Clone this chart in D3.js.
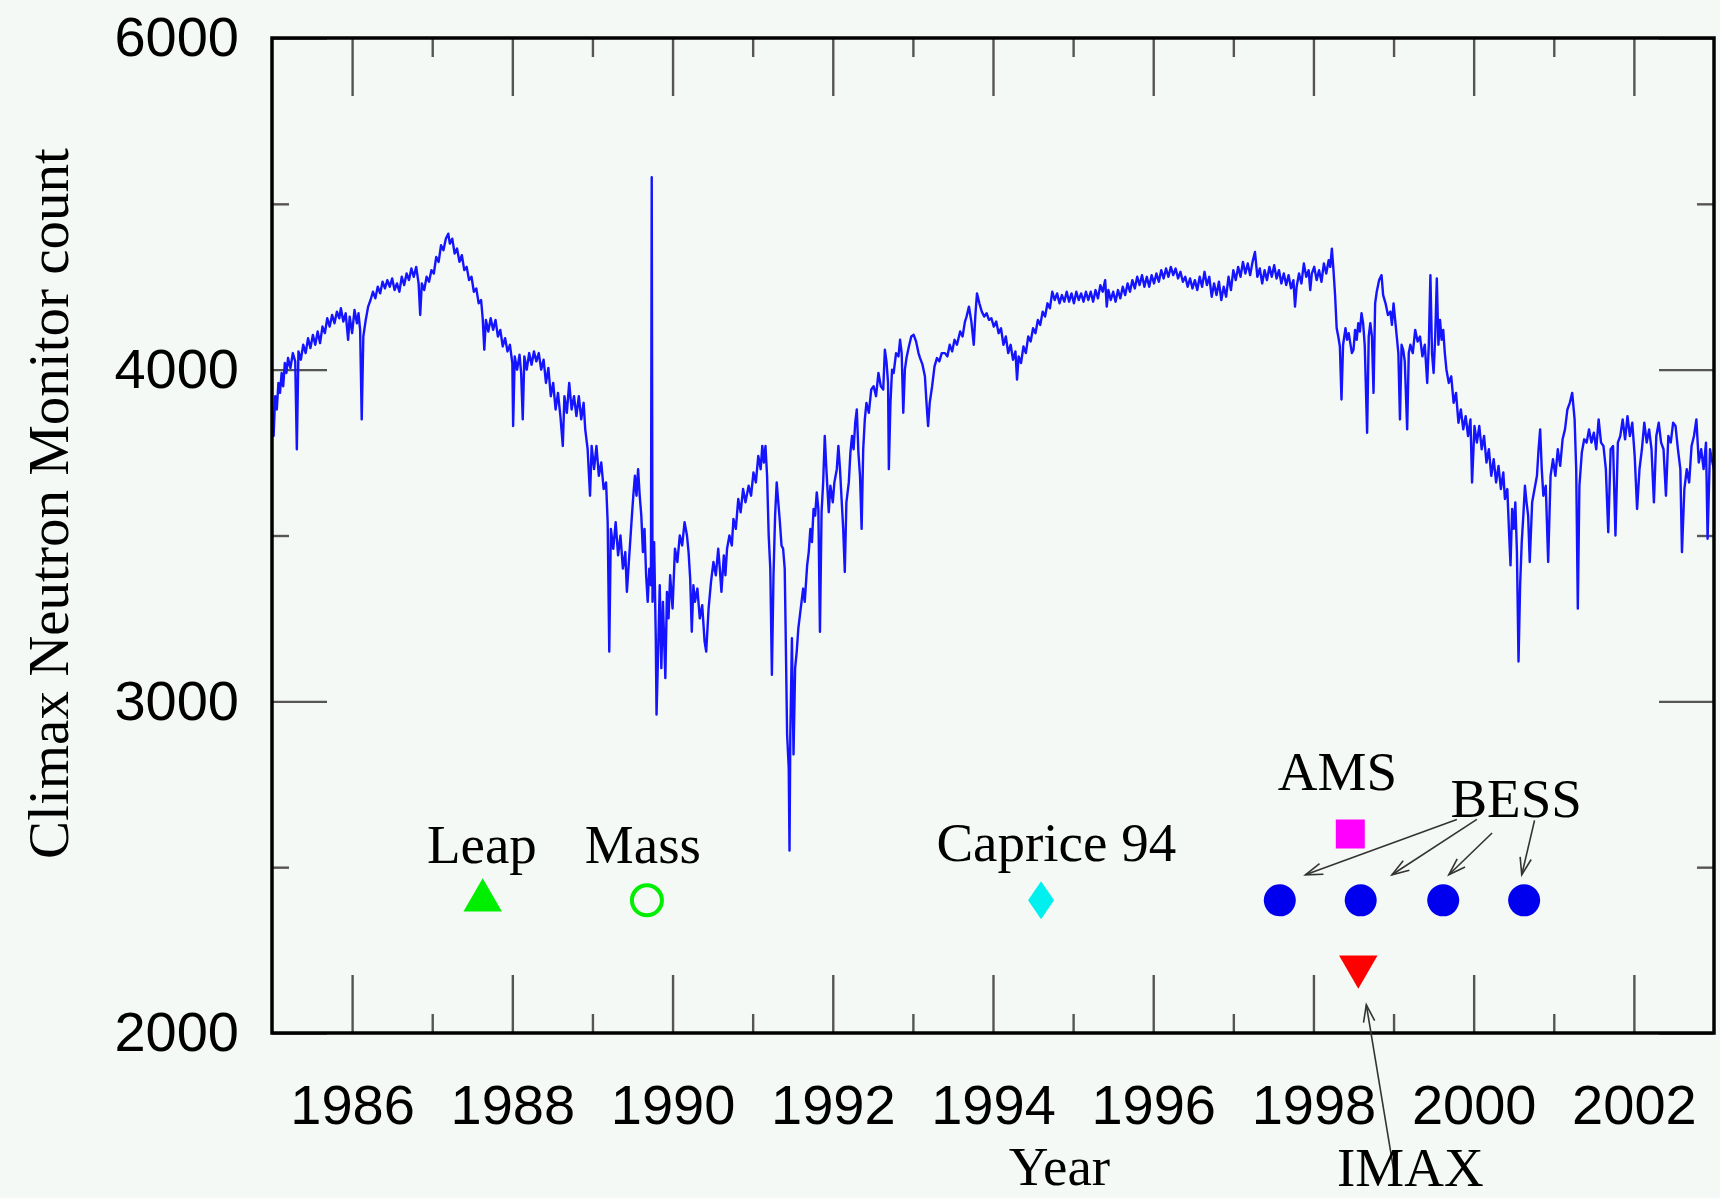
<!DOCTYPE html>
<html>
<head>
<meta charset="utf-8">
<script src="https://cdn.jsdelivr.net/npm/d3@7"></script>
<style>
html,body{margin:0;padding:0;background:#f5f9f6;}
svg{display:block;}
</style>
</head>
<body>
<svg id="chart" width="1720" height="1198"></svg>
<script>
// ---------------- data ----------------
const xMajorTicks = [1986,1988,1990,1992,1994,1996,1998,2000,2002];
const xMinorTicks = [1987,1989,1991,1993,1995,1997,1999,2001];
const yMajorTicks = [2000,3000,4000,6000];
const yMinorTicks = [2500,3500,5000];
const yTickLabels = ["2000","3000","4000","6000"];

// Climax neutron monitor counts: [year, count]
const nm1985 = [
[1985.00,3870],[1985.02,3800],[1985.04,3920],[1985.06,3880],[1985.08,3960],[1985.10,3930],[1985.12,3990],[1985.14,3950],
[1985.16,4040],[1985.18,3990],[1985.20,4070],[1985.23,4010],[1985.26,4100],[1985.29,4050],[1985.31,3760],[1985.33,4110],
[1985.36,4060],[1985.39,4150],[1985.42,4100],[1985.45,4190],[1985.48,4130],[1985.51,4210],[1985.54,4150],[1985.57,4230],
[1985.60,4160],[1985.63,4260],[1985.66,4220],[1985.69,4310],[1985.72,4260],[1985.75,4330],[1985.78,4280],[1985.81,4350],
[1985.84,4310],[1985.86,4370],[1985.89,4290],[1985.92,4340],[1985.95,4180],[1985.97,4320],[1986.00,4220],[1986.03,4360],
[1986.06,4280],[1986.08,4340],[1986.10,4240],[1986.12,3850],[1986.14,4200],[1986.17,4300],[1986.20,4380],[1986.23,4420],
[1986.26,4470],[1986.29,4430],[1986.32,4500],[1986.35,4460],[1986.38,4530],[1986.41,4490],[1986.44,4540],[1986.47,4500],
[1986.50,4550],[1986.53,4480],[1986.56,4520],[1986.59,4470],[1986.62,4560],[1986.65,4510],[1986.68,4580],[1986.71,4540],
[1986.74,4610],[1986.77,4560],[1986.80,4620],[1986.83,4520],[1986.85,4330],[1986.87,4520],[1986.90,4480],[1986.93,4560],
[1986.96,4530],[1986.99,4600],[1987.02,4580],[1987.05,4680],[1987.08,4650],[1987.11,4750],[1987.14,4720],[1987.17,4790],
[1987.20,4820],[1987.22,4760],[1987.25,4790],[1987.28,4700],[1987.31,4730],[1987.34,4650],[1987.37,4690],[1987.40,4600],
[1987.43,4620],[1987.46,4540],[1987.49,4560],[1987.52,4470],[1987.55,4490],[1987.58,4400],[1987.61,4420],[1987.63,4310],
[1987.65,4120],[1987.67,4300],[1987.70,4230],[1987.73,4310],[1987.76,4240],[1987.79,4300],[1987.82,4200],[1987.85,4240],
[1987.88,4140],[1987.91,4190],[1987.94,4110],[1987.97,4150],[1988.00,4040],[1988.01,3830],[1988.03,4080],[1988.06,4000],
[1988.09,4090],[1988.11,3990],[1988.13,3850],[1988.15,4080],[1988.18,4000],[1988.21,4100],[1988.24,4030],[1988.27,4110],
[1988.30,4050],[1988.33,4100],[1988.36,4000],[1988.39,4060],[1988.42,3960],[1988.45,4010],[1988.48,3920],[1988.51,3960],
[1988.54,3880],[1988.57,3930],[1988.60,3860],[1988.63,3770],[1988.65,3920],[1988.68,3870],[1988.71,3960],[1988.74,3880],
[1988.77,3920],[1988.80,3860],[1988.83,3920],[1988.86,3850],[1988.89,3900],[1988.91,3820],[1988.94,3760],[1988.97,3620],
[1988.99,3770],[1989.02,3700],[1989.05,3770],[1989.08,3680],[1989.11,3720],[1989.14,3640],[1989.17,3660],[1989.19,3540],
[1989.21,3150],[1989.23,3520],[1989.26,3460],[1989.29,3540],[1989.32,3440],[1989.35,3500],[1989.38,3400],[1989.41,3450],
[1989.43,3330],[1989.46,3440],[1989.49,3550],[1989.51,3620],[1989.53,3680],[1989.55,3620],[1989.57,3700],[1989.59,3620],
[1989.61,3560],[1989.63,3450],[1989.65,3520],[1989.67,3380],[1989.69,3300],[1989.71,3400],[1989.73,3350],[1989.74,5160],
[1989.75,3300],[1989.77,3480],[1989.79,3200],[1989.80,2960],[1989.82,3150]
];
const nm1990 = [
[1989.84,3350],[1989.86,3100],[1989.88,3300],[1989.91,3070],[1989.93,3330],[1989.95,3250],[1989.97,3380],[1990.00,3280],
[1990.03,3460],[1990.06,3420],[1990.09,3500],[1990.12,3470],[1990.15,3540],[1990.18,3500],[1990.20,3450],[1990.22,3370],
[1990.24,3210],[1990.26,3350],[1990.28,3300],[1990.31,3340],[1990.34,3250],[1990.37,3290],[1990.40,3180],[1990.42,3150],
[1990.45,3280],[1990.48,3360],[1990.51,3420],[1990.54,3380],[1990.57,3460],[1990.59,3400],[1990.61,3330],[1990.64,3440],
[1990.66,3380],[1990.68,3460],[1990.71,3500],[1990.74,3470],[1990.76,3550],[1990.79,3520],[1990.82,3610],[1990.85,3570],
[1990.88,3640],[1990.91,3600],[1990.95,3650],[1990.98,3620],[1991.01,3690],[1991.04,3660],[1991.07,3740],[1991.10,3700],
[1991.12,3770],[1991.14,3720],[1991.16,3770],[1991.18,3680],[1991.20,3500],[1991.22,3400],[1991.24,3080],[1991.26,3380],
[1991.28,3560],[1991.30,3660],[1991.32,3600],[1991.34,3540],[1991.36,3470],[1991.38,3460],[1991.40,3400],[1991.41,3240],
[1991.43,2900],[1991.45,2800],[1991.46,2550],[1991.47,2900],[1991.49,3190],[1991.51,2840],[1991.53,3100],[1991.55,3150],
[1991.57,3220],[1991.59,3260],[1991.61,3300],[1991.63,3340],[1991.65,3300],[1991.68,3410],[1991.70,3450],[1991.72,3520],
[1991.74,3480],[1991.76,3580],[1991.78,3560],[1991.80,3630],[1991.82,3580],[1991.84,3210],[1991.86,3570],[1991.88,3660],
[1991.90,3800],[1991.92,3700],[1991.95,3570],[1991.97,3650],[1992.00,3600],[1992.02,3660],[1992.05,3700],[1992.07,3770],
[1992.09,3700],[1992.11,3610],[1992.13,3520],[1992.15,3390],[1992.17,3600],[1992.20,3660],[1992.22,3750],[1992.24,3800],
[1992.26,3760],[1992.28,3840],[1992.30,3880],[1992.32,3750],[1992.34,3680],[1992.36,3520],[1992.38,3760],[1992.40,3850],
[1992.42,3900],[1992.45,3870],[1992.48,3940],[1992.51,3950],[1992.54,3920],[1992.57,3990],[1992.60,3950],[1992.63,3940],
[1992.65,4120],[1992.67,4050],[1992.69,3960],[1992.70,3700],[1992.72,3900],[1992.74,4000],[1992.76,3990],[1992.79,4100],
[1992.82,4080],[1992.84,4180],[1992.86,4100],[1992.88,3870],[1992.90,4000],[1992.92,4070],[1992.95,4140],[1992.98,4200],
[1993.01,4210],[1993.04,4170],[1993.07,4100],[1993.09,4070],[1993.12,4030],[1993.15,3980],[1993.17,3900],[1993.19,3830],
[1993.21,3900],[1993.24,3950],[1993.27,4020],[1993.30,4070],[1993.33,4050],[1993.36,4100],[1993.40,4100],[1993.43,4080],
[1993.46,4150],[1993.49,4110],[1993.52,4180],[1993.55,4150],[1993.59,4230],[1993.62,4200],[1993.65,4290],[1993.67,4320],
[1993.70,4380],[1993.73,4290],[1993.76,4150],[1993.78,4330],[1993.80,4460],[1993.83,4400],[1993.86,4350],[1993.89,4320],
[1993.92,4340],[1993.95,4300],[1993.98,4310],[1994.01,4260],[1994.04,4290],[1994.07,4220],[1994.10,4250]
];
const nm1994 = [
[1994.13,4150],[1994.16,4200],[1994.19,4100],[1994.22,4150],[1994.25,4060],[1994.28,4110],[1994.30,3970],[1994.32,4080],
[1994.35,4040],[1994.38,4140],[1994.41,4100],[1994.44,4200],[1994.47,4170],[1994.50,4250],[1994.53,4220],[1994.56,4300],
[1994.59,4270],[1994.62,4350],[1994.65,4320],[1994.68,4400],[1994.71,4370],[1994.74,4470],[1994.77,4420],[1994.80,4460],
[1994.83,4400],[1994.86,4450],[1994.89,4410],[1994.92,4470],[1994.95,4410],[1994.98,4460],[1995.01,4400],[1995.04,4470],
[1995.07,4420],[1995.10,4460],[1995.13,4410],[1995.16,4470],[1995.19,4420],[1995.22,4470],[1995.25,4410],[1995.28,4480],
[1995.31,4430],[1995.34,4510],[1995.37,4470],[1995.40,4540],[1995.42,4380],[1995.44,4480],[1995.47,4420],[1995.50,4470],
[1995.53,4410],[1995.56,4480],[1995.59,4430],[1995.62,4500],[1995.65,4450],[1995.68,4520],[1995.71,4470],[1995.74,4540],
[1995.77,4490],[1995.80,4560],[1995.83,4510],[1995.86,4570],[1995.89,4500],[1995.92,4560],[1995.95,4500],[1995.98,4570],
[1996.01,4520],[1996.04,4580],[1996.07,4530],[1996.10,4600],[1996.13,4550],[1996.16,4610],[1996.19,4560],[1996.22,4620],
[1996.25,4570],[1996.28,4610],[1996.31,4550],[1996.34,4590],[1996.37,4530],[1996.40,4560],[1996.43,4500],[1996.46,4550],
[1996.49,4490],[1996.52,4540],[1996.55,4480],[1996.58,4560],[1996.61,4500],[1996.64,4590],[1996.67,4510],[1996.70,4560],
[1996.73,4440],[1996.76,4520],[1996.79,4450],[1996.82,4530],[1996.85,4420],[1996.88,4500],[1996.91,4440],[1996.94,4560],
[1996.97,4480],[1997.00,4600],[1997.03,4540],[1997.06,4620],[1997.09,4560],[1997.12,4650],[1997.15,4580],[1997.18,4640],
[1997.21,4570],[1997.24,4650],[1997.27,4710],[1997.30,4560],[1997.33,4610],[1997.36,4520],[1997.39,4600],[1997.42,4540],
[1997.45,4620],[1997.48,4560],[1997.51,4630],[1997.54,4550],[1997.57,4600],[1997.60,4520],[1997.63,4580],[1997.66,4510],
[1997.69,4570],[1997.72,4490],[1997.75,4540],[1997.77,4380],[1997.79,4500],[1997.82,4580],[1997.85,4520],[1997.88,4640],
[1997.91,4560],[1997.94,4600],[1997.96,4480],[1997.98,4580],[1998.01,4620],[1998.04,4540],[1998.07,4600],[1998.10,4530],
[1998.13,4640],[1998.16,4580],[1998.19,4660],[1998.21,4620],[1998.23,4730],[1998.25,4600]
];
const nm1998 = [
[1998.27,4450],[1998.29,4250],[1998.31,4200],[1998.33,4140],[1998.35,3910],[1998.37,4150],[1998.40,4250],[1998.42,4180],
[1998.44,4220],[1998.46,4160],[1998.48,4100],[1998.50,4120],[1998.52,4240],[1998.54,4180],[1998.56,4280],[1998.58,4230],
[1998.60,4340],[1998.62,4280],[1998.64,4150],[1998.67,3810],[1998.69,4200],[1998.71,4280],[1998.73,4200],[1998.75,3930],
[1998.77,4400],[1998.79,4470],[1998.82,4540],[1998.85,4570],[1998.87,4450],[1998.90,4400],[1998.93,4330],[1998.96,4350],
[1998.98,4270],[1999.00,4400],[1999.02,4300],[1999.04,4200],[1999.06,4100],[1999.08,3850],[1999.10,4150],[1999.12,4120],
[1999.14,4050],[1999.17,3820],[1999.19,4100],[1999.21,4150],[1999.24,4100],[1999.27,4240],[1999.30,4170],[1999.33,4200],
[1999.36,4080],[1999.39,4150],[1999.42,3960],[1999.44,4150],[1999.46,4570],[1999.48,4100],[1999.50,3990],[1999.52,4200],
[1999.54,4550],[1999.56,4150],[1999.58,4300],[1999.60,4180],[1999.62,4240],[1999.64,4100],[1999.66,4000],[1999.69,3960],
[1999.72,3980],[1999.75,3900],[1999.78,3930],[1999.81,3840],[1999.84,3880],[1999.87,3820],[1999.90,3860],[1999.93,3800],
[1999.96,3850],[1999.98,3660],[2000.01,3830],[2000.04,3780],[2000.07,3830],[2000.10,3760],[2000.13,3800],[2000.16,3720],
[2000.19,3760],[2000.22,3680],[2000.25,3730],[2000.28,3660],[2000.31,3710],[2000.34,3640],[2000.37,3690],[2000.39,3610],
[2000.42,3640],[2000.44,3520],[2000.46,3410],[2000.48,3580],[2000.50,3520],[2000.52,3600],[2000.54,3450],[2000.56,3120],
[2000.58,3350],[2000.60,3480],[2000.62,3560],[2000.64,3650],[2000.66,3600],[2000.68,3560],[2000.70,3420],[2000.73,3600],
[2000.76,3640],[2000.79,3680],[2000.81,3760],[2000.83,3820],[2000.85,3700],[2000.87,3620],[2000.90,3650],[2000.93,3420],
[2000.96,3680],[2000.99,3730],[2001.02,3680],[2001.05,3760],[2001.08,3710],[2001.11,3790],[2001.14,3820],[2001.17,3880],
[2001.20,3900],[2001.23,3930],[2001.26,3850],[2001.28,3700],[2001.30,3280],[2001.32,3650],[2001.35,3750],[2001.38,3790],
[2001.41,3780],[2001.44,3820],[2001.47,3780],[2001.50,3810],[2001.53,3760],[2001.56,3850],[2001.59,3780],[2001.62,3770],
[2001.65,3700],[2001.68,3510],[2001.71,3760],[2001.74,3770],[2001.77,3500],[2001.80,3780],[2001.83,3800],[2001.86,3850],
[2001.89,3790],[2001.92,3860],[2001.95,3800],[2001.98,3840],[2002.01,3740],[2002.04,3580],[2002.07,3700],[2002.10,3760],
[2002.13,3840],[2002.16,3780],[2002.19,3820],[2002.22,3760],[2002.25,3600],[2002.28,3800],[2002.31,3840],[2002.34,3780],
[2002.37,3760],[2002.40,3620],[2002.43,3800],[2002.46,3780],[2002.49,3840],[2002.52,3830],[2002.55,3760],[2002.58,3700],
[2002.60,3450],[2002.63,3640],[2002.66,3700],[2002.69,3660],[2002.72,3770],[2002.75,3800],[2002.78,3850],[2002.81,3720],
[2002.84,3760],[2002.87,3700],[2002.90,3780],[2002.92,3490],[2002.95,3760],[2002.98,3720],[2003.00,3700]
];

// experiment markers
const markerNames  = ["Leap","Mass","Caprice 94","AMS","BESS 97","BESS 98","BESS 99","BESS 2000","IMAX"];
const markerYears  = [1987.63,1989.68,1994.60,1998.46,1997.58,1998.59,1999.62,2000.63,1998.56];
const markerCounts = [2400,2400,2400,2600,2400,2400,2400,2400,2200];

// text annotations
const labelTexts  = ["Leap","Mass","Caprice 94","AMS","BESS","IMAX"];
const labelYears  = [1987.62,1989.63,1994.79,1998.30,2000.53,1999.21];
const labelCounts = [2514,2514,2520,2734,2650,1540];

// arrows: [fromYear, fromCount, toYear, toCount]
const arrowFrom = [[1999.79,2644],[2000.04,2644],[2000.23,2603],[2000.76,2641],[1999.02,1560]];
const arrowTo   = [[1997.90,2477],[1998.98,2477],[1999.69,2477],[2000.60,2477],[1998.66,2085]];

const xTitle = "Year";
const yTitle = "Climax Neutron Monitor count";

// ---------------- styles ----------------
const markerStyle = {
  "Leap":       {shape:"triUp",   fill:"#00ee00", stroke:"none"},
  "Mass":       {shape:"ring",    fill:"none",    stroke:"#00ee00"},
  "Caprice 94": {shape:"diamond", fill:"#00f0f0", stroke:"none"},
  "AMS":        {shape:"square",  fill:"#ff00ff", stroke:"none"},
  "BESS 97":    {shape:"circle",  fill:"#0000ee", stroke:"none"},
  "BESS 98":    {shape:"circle",  fill:"#0000ee", stroke:"none"},
  "BESS 99":    {shape:"circle",  fill:"#0000ee", stroke:"none"},
  "BESS 2000":  {shape:"circle",  fill:"#0000ee", stroke:"none"},
  "IMAX":       {shape:"triDown", fill:"#ff0000", stroke:"none"}
};

// ---------------- layout ----------------
const L = 272, R = 1714, T = 38, B = 1033;
const svg = d3.select("#chart");
svg.append("rect").attr("width",1720).attr("height",1198).attr("fill","#f5f9f6");

const x = d3.scaleLinear().domain([1985,2003]).range([L,R]);
const h = B - T;
const y = d3.scaleLinear().domain(yMajorTicks).range([B, B - h/3, B - 2*h/3, T]);

const tickColor = "#555";
function styleAxis(g){
  g.select(".domain").remove();
  g.selectAll(".tick line").attr("stroke",tickColor).attr("stroke-width",2.4);
  g.selectAll(".tick text").attr("fill","#000")
   .style("font-family","'Liberation Sans', Arial, Helvetica, sans-serif")
   .style("font-size","56px");
}
// bottom
svg.append("g").attr("transform",`translate(0,${B})`)
  .call(d3.axisBottom(x).tickValues(xMajorTicks).tickSize(-58).tickPadding(51).tickFormat(d3.format("d")))
  .call(styleAxis);
svg.append("g").attr("transform",`translate(0,${B})`)
  .call(d3.axisBottom(x).tickValues(xMinorTicks).tickSize(-19).tickFormat(""))
  .call(styleAxis);
// top
svg.append("g").attr("transform",`translate(0,${T})`)
  .call(d3.axisTop(x).tickValues(xMajorTicks).tickSize(-58).tickFormat(""))
  .call(styleAxis);
svg.append("g").attr("transform",`translate(0,${T})`)
  .call(d3.axisTop(x).tickValues(xMinorTicks).tickSize(-19).tickFormat(""))
  .call(styleAxis);
// left
svg.append("g").attr("transform",`translate(${L},0)`)
  .call(d3.axisLeft(y).tickValues(yMajorTicks).tickSize(-55).tickPadding(33)
        .tickFormat((d,i)=>yTickLabels[i]))
  .call(styleAxis);
svg.append("g").attr("transform",`translate(${L},0)`)
  .call(d3.axisLeft(y).tickValues(yMinorTicks).tickSize(-17).tickFormat(""))
  .call(styleAxis);
// right
svg.append("g").attr("transform",`translate(${R},0)`)
  .call(d3.axisRight(y).tickValues(yMajorTicks).tickSize(-55).tickFormat(""))
  .call(styleAxis);
svg.append("g").attr("transform",`translate(${R},0)`)
  .call(d3.axisRight(y).tickValues(yMinorTicks).tickSize(-17).tickFormat(""))
  .call(styleAxis);

// clip
svg.append("clipPath").attr("id","plotclip").append("rect")
  .attr("x",L).attr("y",T).attr("width",R-L).attr("height",B-T);

// neutron monitor line
const nmData = nm1985.concat(nm1990, nm1994, nm1998);
const line = d3.line().x(d=>x(d[0])).y(d=>y(d[1]));
svg.append("path").datum(nmData)
  .attr("clip-path","url(#plotclip)")
  .attr("d",line).attr("fill","none")
  .attr("stroke","#1414ff").attr("stroke-width",2.4).attr("stroke-linejoin","round");

// frame
svg.append("rect").attr("x",L).attr("y",T).attr("width",R-L).attr("height",B-T)
  .attr("fill","none").attr("stroke","#000").attr("stroke-width",3.5);

// markers
const shapes = {
  triUp:   d3.symbol().type(d3.symbolTriangle).size(640)(),
  triDown: d3.symbol().type(d3.symbolTriangle).size(640)(),
  square:  d3.symbol().type(d3.symbolSquare).size(841)(),
  circle:  d3.symbol().type(d3.symbolCircle).size(Math.PI*16*16)(),
  ring:    d3.symbol().type(d3.symbolCircle).size(Math.PI*15*15)(),
  diamond: d3.symbol().type({draw(ctx){ctx.moveTo(0,-19);ctx.lineTo(13,0);ctx.lineTo(0,19);ctx.lineTo(-13,0);ctx.closePath();}})()
};
const markerData = markerNames.map((n,i)=>({name:n, yr:markerYears[i], v:markerCounts[i]}));
svg.append("g").selectAll("path").data(markerData).join("path")
  .attr("d",d=>shapes[markerStyle[d.name].shape])
  .attr("transform",d=>`translate(${x(d.yr)},${y(d.v)})` + (markerStyle[d.name].shape==="triDown"?" rotate(180)":""))
  .attr("fill",d=>markerStyle[d.name].fill)
  .attr("stroke",d=>markerStyle[d.name].stroke)
  .attr("stroke-width",4);

// arrows
const arrowG = svg.append("g").attr("stroke","#333").attr("stroke-width",1.6).attr("fill","none");
arrowFrom.forEach((f,i)=>{
  const t = arrowTo[i];
  const x1=x(f[0]), y1=y(f[1]), x2=x(t[0]), y2=y(t[1]);
  arrowG.append("line").attr("x1",x1).attr("y1",y1).attr("x2",x2).attr("y2",y2);
  const ang = Math.atan2(y1-y2, x1-x2), len = 18, spread = 0.32;
  const p = d3.path();
  p.moveTo(x2+len*Math.cos(ang+spread), y2+len*Math.sin(ang+spread));
  p.lineTo(x2,y2);
  p.lineTo(x2+len*Math.cos(ang-spread), y2+len*Math.sin(ang-spread));
  arrowG.append("path").attr("d",p.toString());
});

// labels
const serif = "'Liberation Serif', 'Times New Roman', Times, serif";
svg.append("g").selectAll("text").data(labelTexts).join("text")
  .attr("x",(d,i)=>x(labelYears[i])).attr("y",(d,i)=>y(labelCounts[i]))
  .attr("text-anchor","middle")
  .style("font-family",serif).style("font-size","55px").attr("fill","#000")
  .text(d=>d);

// axis titles
svg.append("text").attr("x",x(1994.83)).attr("y",1185).attr("text-anchor","middle")
  .style("font-family",serif).style("font-size","55px").text(xTitle);
svg.append("text").attr("transform",`translate(68,${(T+B)/2 - 32}) rotate(-90)`)
  .attr("text-anchor","middle")
  .style("font-family",serif).style("font-size","57px").text(yTitle);
</script>
</body>
</html>
